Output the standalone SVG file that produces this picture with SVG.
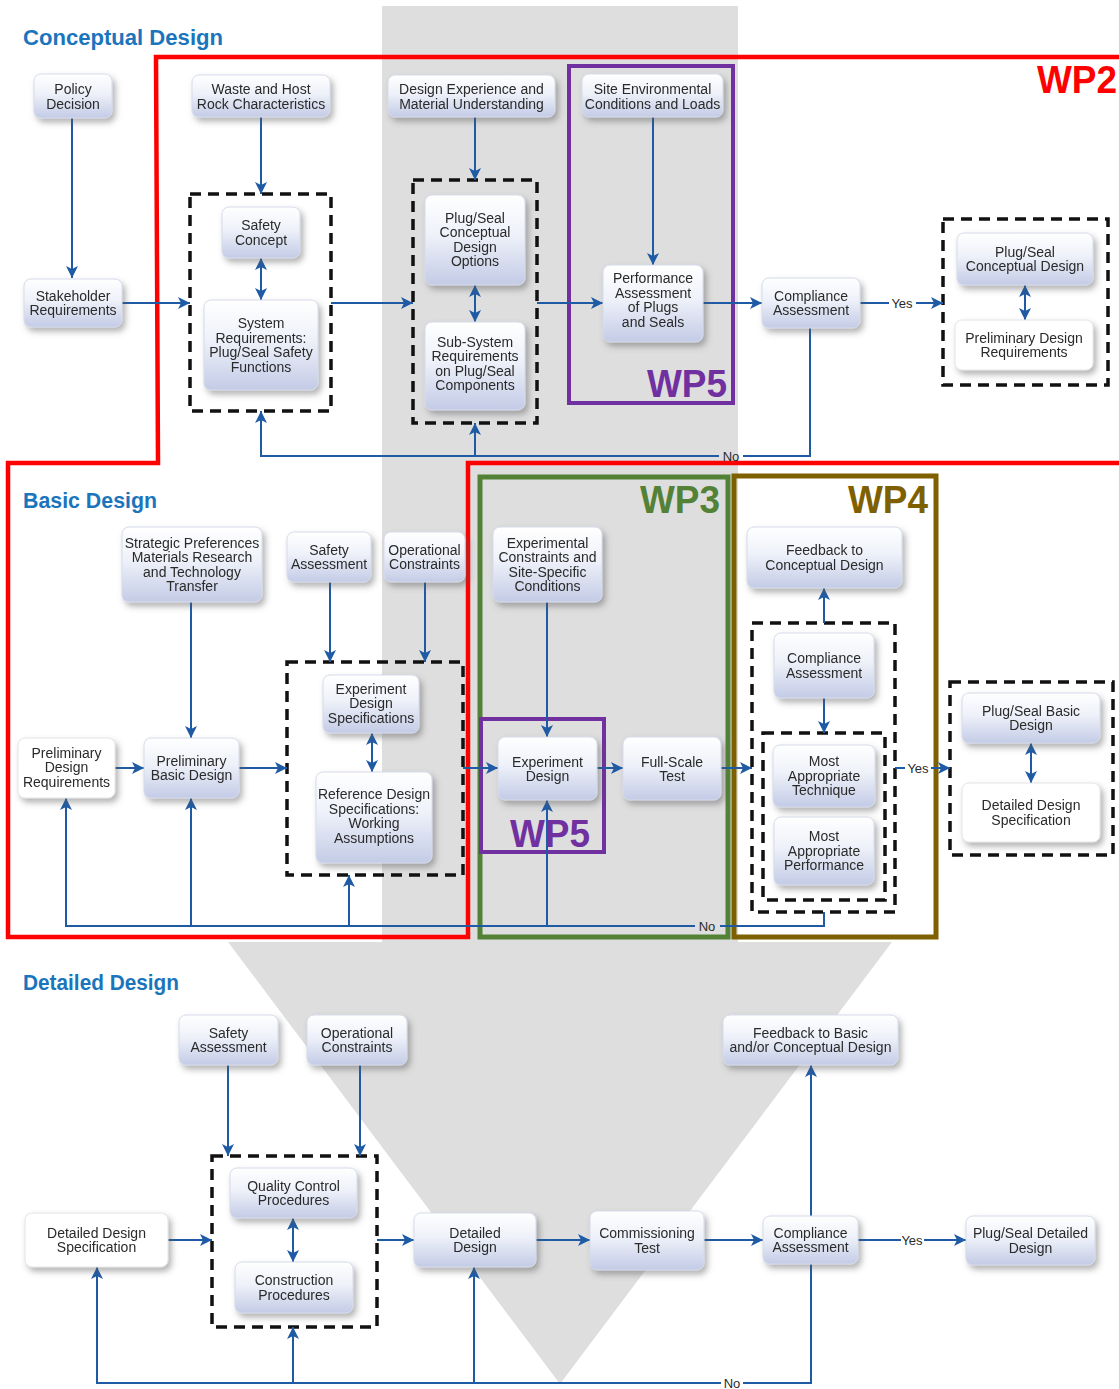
<svg xmlns="http://www.w3.org/2000/svg" width="1119" height="1389" viewBox="0 0 1119 1389">
  <style>
    .title { font-family: "Liberation Sans", Arial, sans-serif; font-weight: bold; fill: #1b75bc; font-size: 22px; }
    .wp { font-family: "Liberation Sans", Arial, sans-serif; font-weight: bold; font-size: 38px; }
    .node rect.box { fill: url(#nodeGrad); stroke: #d6dbea; stroke-width: 1; }
    .node.plain rect.box { fill: #ffffff; stroke: #e4e4e4; }
    .node text { font-family: "Liberation Sans", Arial, sans-serif; font-size: 14px; fill: #2a2a2a; text-anchor: middle; }
    .c { fill: none; stroke: #1f5ba5; stroke-width: 2; }
    .c.a { marker-end: url(#ah); }
    .c.b { marker-start: url(#ah); marker-end: url(#ah); }
    .lbl { font-family: "Liberation Sans", Arial, sans-serif; font-size: 13px; fill: #2a2a2a; text-anchor: middle; }
    .dash { fill: none; stroke: #111; stroke-width: 3.5; stroke-dasharray: 11 7; }
  </style>
  <defs>
    <linearGradient id="nodeGrad" x1="0" y1="0" x2="0" y2="1">
      <stop offset="0" stop-color="#ffffff"/>
      <stop offset="0.45" stop-color="#eef1f9"/>
      <stop offset="1" stop-color="#c3cbe6"/>
    </linearGradient>
    <filter id="shadow" x="-20%" y="-20%" width="150%" height="160%">
      <feGaussianBlur in="SourceAlpha" stdDeviation="3"/>
      <feOffset dx="3" dy="4" result="ob"/>
      <feFlood flood-color="#555" flood-opacity="0.45"/>
      <feComposite in2="ob" operator="in"/>
      <feMerge><feMergeNode/><feMergeNode in="SourceGraphic"/></feMerge>
    </filter>
    <marker id="ah" viewBox="0 0 12 12" refX="12" refY="6" markerWidth="12" markerHeight="12" markerUnits="userSpaceOnUse" orient="auto-start-reverse">
      <path d="M0,0 L12,6 L0,12 L3,6 z" fill="#1f5ba5"/>
    </marker>
  </defs>

  <rect width="1119" height="1389" fill="#ffffff"/>

  <!-- big grey process arrow in the background -->
  <polygon points="382,6 738,6 738,942 892,942 560,1384 228,942 382,942" fill="#dedede"/>

  <!-- section titles -->
  <text class="title" x="23" y="45" textLength="200" lengthAdjust="spacingAndGlyphs">Conceptual Design</text>
  <text class="title" x="23" y="508" textLength="134" lengthAdjust="spacingAndGlyphs">Basic Design</text>
  <text class="title" x="23" y="990" textLength="156" lengthAdjust="spacingAndGlyphs">Detailed Design</text>

  <!-- work package frames -->
  <g id="frames">
    <polyline points="1125,57 156,57 158,463 8,463 8,937 468,937 468,463 1125,463" fill="none" stroke="#ff0000" stroke-width="4.5"/>
    <rect x="569" y="66" width="164" height="337" fill="none" stroke="#7030a0" stroke-width="4"/>
    <rect x="480" y="477" width="248" height="460" fill="none" stroke="#538135" stroke-width="5"/>
    <rect x="734" y="476" width="202" height="461" fill="none" stroke="#7f6000" stroke-width="5"/>
    <rect x="481" y="719" width="123" height="133" fill="none" stroke="#7030a0" stroke-width="4"/>
    <text class="wp" x="1037" y="93" fill="#ff0000" textLength="80" lengthAdjust="spacingAndGlyphs">WP2</text>
    <text class="wp" x="647" y="397" fill="#7030a0" textLength="80" lengthAdjust="spacingAndGlyphs">WP5</text>
    <text class="wp" x="640" y="513" fill="#538135" textLength="80" lengthAdjust="spacingAndGlyphs">WP3</text>
    <text class="wp" x="848" y="513" fill="#7f6000" textLength="80" lengthAdjust="spacingAndGlyphs">WP4</text>
    <text class="wp" x="510" y="847" fill="#7030a0" textLength="80" lengthAdjust="spacingAndGlyphs">WP5</text>
  </g>

  <!-- dashed grouping boxes -->
  <g id="groups">
    <rect class="dash" x="190" y="194" width="141" height="217"/>
    <rect class="dash" x="413" y="180" width="124" height="243"/>
    <rect class="dash" x="943" y="219" width="165" height="166"/>
    <rect class="dash" x="287" y="662" width="176" height="213"/>
    <rect class="dash" x="752" y="623" width="143" height="289"/>
    <rect class="dash" x="763" y="733" width="122" height="167"/>
    <rect class="dash" x="950" y="682" width="163" height="173"/>
    <rect class="dash" x="212" y="1156" width="165" height="171"/>
  </g>

  <!-- connectors -->
  <g id="connectors">
    <!-- conceptual design -->
    <path class="c a" d="M72,118 V278"/>
    <path class="c a" d="M122,303 H190"/>
    <path class="c a" d="M261,117 V194"/>
    <path class="c b" d="M261,258 V300"/>
    <path class="c a" d="M331,303 H413"/>
    <path class="c a" d="M475,117 V180"/>
    <path class="c b" d="M475,285 V322"/>
    <path class="c a" d="M537,303 H603"/>
    <path class="c a" d="M653,117 V265"/>
    <path class="c a" d="M703,303 H762"/>
    <path class="c" d="M860,303 H889"/>
    <path class="c a" d="M916,303 H943"/>
    <path class="c b" d="M1025,285 V320"/>
    <path class="c" d="M810,328 V456 H743"/>
    <path class="c a" d="M719,456 H261 V411"/>
    <path class="c a" d="M475,456 V423"/>
    <text class="lbl" x="731" y="461">No</text>
    <text class="lbl" x="902" y="308">Yes</text>

    <!-- basic design -->
    <path class="c a" d="M191,602 V738"/>
    <path class="c a" d="M330,582 V662"/>
    <path class="c a" d="M425,582 V662"/>
    <path class="c b" d="M372,733 V772"/>
    <path class="c a" d="M115,768 H144"/>
    <path class="c a" d="M239,768 H287"/>
    <path class="c a" d="M463,768 H498"/>
    <path class="c a" d="M547,602 V737"/>
    <path class="c a" d="M597,768 H623"/>
    <path class="c a" d="M721,768 H752"/>
    <path class="c a" d="M824,623 V588"/>
    <path class="c a" d="M824,698 V733"/>
    <path class="c" d="M895,768 H905"/>
    <path class="c a" d="M931,768 H950"/>
    <path class="c b" d="M1031,743 V783"/>
    <path class="c" d="M824,912 V926 H720"/>
    <path class="c a" d="M695,926 H66 V798"/>
    <path class="c a" d="M191,926 V798"/>
    <path class="c a" d="M349,926 V875"/>
    <path class="c a" d="M547,926 V800"/>
    <text class="lbl" x="707" y="931">No</text>
    <text class="lbl" x="918" y="773">Yes</text>

    <!-- detailed design -->
    <path class="c a" d="M228,1065 V1156"/>
    <path class="c a" d="M360,1065 V1156"/>
    <path class="c b" d="M293,1218 V1262"/>
    <path class="c a" d="M168,1240 H212"/>
    <path class="c a" d="M377,1240 H414"/>
    <path class="c a" d="M536,1240 H590"/>
    <path class="c a" d="M704,1240 H763"/>
    <path class="c" d="M858,1240 H901"/>
    <path class="c a" d="M924,1240 H966"/>
    <path class="c a" d="M811,1216 V1065"/>
    <path class="c" d="M811,1264 V1383 H743"/>
    <path class="c a" d="M721,1383 H97 V1267"/>
    <path class="c a" d="M293,1383 V1327"/>
    <path class="c a" d="M474,1383 V1267"/>
    <text class="lbl" x="732" y="1387.5" font-size="12">No</text>
    <text class="lbl" x="912" y="1245">Yes</text>
  </g>

  <!-- conceptual design nodes -->
  <g id="policy-decision" class="node" filter="url(#shadow)">
    <rect class="box" x="34" y="74" width="78" height="44" rx="7"/>
    <text x="73"><tspan x="73" y="94">Policy</tspan><tspan x="73" y="108.5">Decision</tspan></text>
  </g>
  <g id="stakeholder-requirements" class="node" filter="url(#shadow)">
    <rect class="box" x="24" y="279" width="98" height="48" rx="7"/>
    <text><tspan x="73" y="300.5">Stakeholder</tspan><tspan x="73" y="315">Requirements</tspan></text>
  </g>
  <g id="waste-host-rock" class="node" filter="url(#shadow)">
    <rect class="box" x="192" y="75" width="138" height="42" rx="7"/>
    <text><tspan x="261" y="94">Waste and Host</tspan><tspan x="261" y="108.5">Rock Characteristics</tspan></text>
  </g>
  <g id="safety-concept" class="node" filter="url(#shadow)">
    <rect class="box" x="222" y="207" width="78" height="51" rx="7"/>
    <text><tspan x="261" y="230">Safety</tspan><tspan x="261" y="244.5">Concept</tspan></text>
  </g>
  <g id="system-requirements" class="node" filter="url(#shadow)">
    <rect class="box" x="204" y="300" width="114" height="90" rx="7"/>
    <text><tspan x="261" y="328">System</tspan><tspan x="261" y="342.5">Requirements:</tspan><tspan x="261" y="357">Plug/Seal Safety</tspan><tspan x="261" y="371.5">Functions</tspan></text>
  </g>
  <g id="design-experience" class="node" filter="url(#shadow)">
    <rect class="box" x="388" y="75" width="167" height="42" rx="7"/>
    <text><tspan x="471.5" y="94">Design Experience and</tspan><tspan x="471.5" y="108.5">Material Understanding</tspan></text>
  </g>
  <g id="conceptual-design-options" class="node" filter="url(#shadow)">
    <rect class="box" x="425" y="195" width="100" height="90" rx="7"/>
    <text><tspan x="475" y="222.5">Plug/Seal</tspan><tspan x="475" y="237">Conceptual</tspan><tspan x="475" y="251.5">Design</tspan><tspan x="475" y="266">Options</tspan></text>
  </g>
  <g id="subsystem-requirements" class="node" filter="url(#shadow)">
    <rect class="box" x="425" y="322" width="100" height="88" rx="7"/>
    <text><tspan x="475" y="346.5">Sub-System</tspan><tspan x="475" y="361">Requirements</tspan><tspan x="475" y="375.5">on Plug/Seal</tspan><tspan x="475" y="390">Components</tspan></text>
  </g>
  <g id="site-conditions" class="node" filter="url(#shadow)">
    <rect class="box" x="582" y="74" width="141" height="43" rx="7"/>
    <text><tspan x="652.5" y="94">Site Environmental</tspan><tspan x="652.5" y="108.5">Conditions and Loads</tspan></text>
  </g>
  <g id="performance-assessment" class="node" filter="url(#shadow)">
    <rect class="box" x="603" y="265" width="100" height="77" rx="7"/>
    <text><tspan x="653" y="283">Performance</tspan><tspan x="653" y="297.5">Assessment</tspan><tspan x="653" y="312">of Plugs</tspan><tspan x="653" y="326.5">and Seals</tspan></text>
  </g>
  <g id="compliance-conceptual" class="node" filter="url(#shadow)">
    <rect class="box" x="762" y="278" width="98" height="50" rx="7"/>
    <text><tspan x="811" y="300.5">Compliance</tspan><tspan x="811" y="315">Assessment</tspan></text>
  </g>
  <g id="plug-seal-conceptual-design" class="node" filter="url(#shadow)">
    <rect class="box" x="957" y="233" width="136" height="52" rx="7"/>
    <text><tspan x="1025" y="256.5">Plug/Seal</tspan><tspan x="1025" y="271">Conceptual Design</tspan></text>
  </g>
  <g id="preliminary-design-requirements-a" class="node plain" filter="url(#shadow)">
    <rect class="box" x="955" y="320" width="138" height="50" rx="7"/>
    <text><tspan x="1024" y="342.5">Preliminary Design</tspan><tspan x="1024" y="357">Requirements</tspan></text>
  </g>

  <!-- basic design nodes -->
  <g id="strategic-preferences" class="node" filter="url(#shadow)">
    <rect class="box" x="122" y="527" width="140" height="75" rx="7"/>
    <text><tspan x="192" y="547.5">Strategic Preferences</tspan><tspan x="192" y="562">Materials Research</tspan><tspan x="192" y="576.5">and Technology</tspan><tspan x="192" y="591">Transfer</tspan></text>
  </g>
  <g id="safety-assessment-basic" class="node" filter="url(#shadow)">
    <rect class="box" x="287" y="532" width="84" height="50" rx="7"/>
    <text><tspan x="329" y="554.5">Safety</tspan><tspan x="329" y="569">Assessment</tspan></text>
  </g>
  <g id="operational-constraints-basic" class="node" filter="url(#shadow)">
    <rect class="box" x="384" y="532" width="81" height="50" rx="7"/>
    <text><tspan x="424.5" y="554.5">Operational</tspan><tspan x="424.5" y="569">Constraints</tspan></text>
  </g>
  <g id="experiment-design-specifications" class="node" filter="url(#shadow)">
    <rect class="box" x="323" y="675" width="96" height="58" rx="7"/>
    <text><tspan x="371" y="693.5">Experiment</tspan><tspan x="371" y="708">Design</tspan><tspan x="371" y="722.5">Specifications</tspan></text>
  </g>
  <g id="reference-design-specifications" class="node" filter="url(#shadow)">
    <rect class="box" x="316" y="772" width="116" height="91" rx="7"/>
    <text><tspan x="374" y="799">Reference Design</tspan><tspan x="374" y="813.5">Specifications:</tspan><tspan x="374" y="828">Working</tspan><tspan x="374" y="842.5">Assumptions</tspan></text>
  </g>
  <g id="preliminary-design-requirements-b" class="node plain" filter="url(#shadow)">
    <rect class="box" x="18" y="738" width="97" height="60" rx="7"/>
    <text><tspan x="66.5" y="757.5">Preliminary</tspan><tspan x="66.5" y="772">Design</tspan><tspan x="66.5" y="786.5">Requirements</tspan></text>
  </g>
  <g id="preliminary-basic-design" class="node" filter="url(#shadow)">
    <rect class="box" x="144" y="738" width="95" height="60" rx="7"/>
    <text><tspan x="191.5" y="765.5">Preliminary</tspan><tspan x="191.5" y="780">Basic Design</tspan></text>
  </g>
  <g id="experimental-constraints" class="node" filter="url(#shadow)">
    <rect class="box" x="493" y="527" width="109" height="75" rx="7"/>
    <text><tspan x="547.5" y="547.5">Experimental</tspan><tspan x="547.5" y="562">Constraints and</tspan><tspan x="547.5" y="576.5">Site-Specific</tspan><tspan x="547.5" y="591">Conditions</tspan></text>
  </g>
  <g id="experiment-design" class="node" filter="url(#shadow)">
    <rect class="box" x="498" y="737" width="99" height="63" rx="7"/>
    <text><tspan x="547.5" y="766.5">Experiment</tspan><tspan x="547.5" y="781">Design</tspan></text>
  </g>
  <g id="full-scale-test" class="node" filter="url(#shadow)">
    <rect class="box" x="623" y="737" width="98" height="63" rx="7"/>
    <text><tspan x="672" y="766.5">Full-Scale</tspan><tspan x="672" y="781">Test</tspan></text>
  </g>
  <g id="feedback-conceptual" class="node" filter="url(#shadow)">
    <rect class="box" x="747" y="527" width="155" height="61" rx="7"/>
    <text><tspan x="824.5" y="555">Feedback to</tspan><tspan x="824.5" y="569.5">Conceptual Design</tspan></text>
  </g>
  <g id="compliance-basic" class="node" filter="url(#shadow)">
    <rect class="box" x="774" y="633" width="100" height="65" rx="7"/>
    <text><tspan x="824" y="663">Compliance</tspan><tspan x="824" y="677.5">Assessment</tspan></text>
  </g>
  <g id="most-appropriate-technique" class="node" filter="url(#shadow)">
    <rect class="box" x="773" y="745" width="102" height="62" rx="7"/>
    <text><tspan x="824" y="766">Most</tspan><tspan x="824" y="780.5">Appropriate</tspan><tspan x="824" y="795">Technique</tspan></text>
  </g>
  <g id="most-appropriate-performance" class="node" filter="url(#shadow)">
    <rect class="box" x="774" y="817" width="100" height="68" rx="7"/>
    <text><tspan x="824" y="841">Most</tspan><tspan x="824" y="855.5">Appropriate</tspan><tspan x="824" y="870">Performance</tspan></text>
  </g>
  <g id="plug-seal-basic-design" class="node" filter="url(#shadow)">
    <rect class="box" x="962" y="693" width="138" height="50" rx="7"/>
    <text><tspan x="1031" y="715.5">Plug/Seal Basic</tspan><tspan x="1031" y="730">Design</tspan></text>
  </g>
  <g id="detailed-design-specification-a" class="node plain" filter="url(#shadow)">
    <rect class="box" x="962" y="783" width="138" height="59" rx="7"/>
    <text><tspan x="1031" y="810">Detailed Design</tspan><tspan x="1031" y="824.5">Specification</tspan></text>
  </g>

  <!-- detailed design nodes -->
  <g id="safety-assessment-detailed" class="node" filter="url(#shadow)">
    <rect class="box" x="179" y="1015" width="99" height="50" rx="7"/>
    <text><tspan x="228.5" y="1037.5">Safety</tspan><tspan x="228.5" y="1052">Assessment</tspan></text>
  </g>
  <g id="operational-constraints-detailed" class="node" filter="url(#shadow)">
    <rect class="box" x="307" y="1015" width="100" height="50" rx="7"/>
    <text><tspan x="357" y="1037.5">Operational</tspan><tspan x="357" y="1052">Constraints</tspan></text>
  </g>
  <g id="quality-control-procedures" class="node" filter="url(#shadow)">
    <rect class="box" x="230" y="1168" width="127" height="50" rx="7"/>
    <text><tspan x="293.5" y="1190.5">Quality Control</tspan><tspan x="293.5" y="1205">Procedures</tspan></text>
  </g>
  <g id="construction-procedures" class="node" filter="url(#shadow)">
    <rect class="box" x="235" y="1262" width="118" height="51" rx="7"/>
    <text><tspan x="294" y="1285">Construction</tspan><tspan x="294" y="1299.5">Procedures</tspan></text>
  </g>
  <g id="detailed-design-specification-b" class="node plain" filter="url(#shadow)">
    <rect class="box" x="25" y="1213" width="143" height="54" rx="7"/>
    <text><tspan x="96.5" y="1237.5">Detailed Design</tspan><tspan x="96.5" y="1252">Specification</tspan></text>
  </g>
  <g id="detailed-design" class="node" filter="url(#shadow)">
    <rect class="box" x="414" y="1213" width="122" height="54" rx="7"/>
    <text><tspan x="475" y="1237.5">Detailed</tspan><tspan x="475" y="1252">Design</tspan></text>
  </g>
  <g id="commissioning-test" class="node" filter="url(#shadow)">
    <rect class="box" x="590" y="1211" width="114" height="59" rx="7"/>
    <text><tspan x="647" y="1238">Commissioning</tspan><tspan x="647" y="1252.5">Test</tspan></text>
  </g>
  <g id="compliance-detailed" class="node" filter="url(#shadow)">
    <rect class="box" x="763" y="1216" width="95" height="48" rx="7"/>
    <text><tspan x="810.5" y="1237.5">Compliance</tspan><tspan x="810.5" y="1252">Assessment</tspan></text>
  </g>
  <g id="plug-seal-detailed-design" class="node" filter="url(#shadow)">
    <rect class="box" x="966" y="1216" width="129" height="49" rx="7"/>
    <text><tspan x="1030.5" y="1238">Plug/Seal Detailed</tspan><tspan x="1030.5" y="1252.5">Design</tspan></text>
  </g>
  <g id="feedback-basic-conceptual" class="node" filter="url(#shadow)">
    <rect class="box" x="723" y="1015" width="175" height="50" rx="7"/>
    <text><tspan x="810.5" y="1037.5">Feedback to Basic</tspan><tspan x="810.5" y="1052">and/or Conceptual Design</tspan></text>
  </g>
</svg>
